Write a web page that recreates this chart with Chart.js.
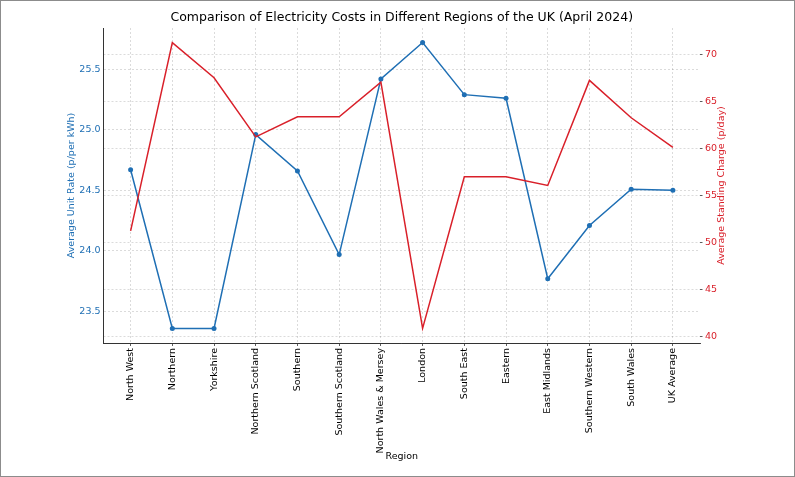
<!DOCTYPE html>
<html>
<head>
    <title>Electricity Costs by UK Region</title>
    <script src="https://cdn.jsdelivr.net/npm/chart.js"></script>
    <style>
        body { margin: 0; background: #fff; }
        #wrap { width: 793px; height: 475px; border: 1px solid #8c8c8c; }
    </style>
</head>
<body>
    <div id="wrap"><canvas id="chart"></canvas></div>

    <script>
        const regions = ['North West', 'Northern', 'Yorkshire', 'Northern Scotland', 'Southern',
            'Southern Scotland', 'North Wales & Mersey', 'London', 'South East', 'Eastern',
            'East Midlands', 'Southern Western', 'South Wales', 'UK Average'];
        const unitRates = [24.67, 23.36, 23.36, 24.96, 24.66, 23.97, 25.42, 25.72, 25.29, 25.26, 23.77, 24.21, 24.51, 24.50];
        const standingCharges = [51.21, 71.24, 67.51, 61.22, 63.36, 63.36, 67.05, 40.85, 56.97, 56.97, 56.05, 67.23, 63.25, 60.10];
        const unitRateTicks = [23.5, 24.0, 24.5, 25.0, 25.5];
        const standingTicks = [40, 45, 50, 55, 60, 65, 70];

        const blue = '#1f6fb4';
        const red = '#d9202a';
        const gridColor = 'rgba(0, 0, 0, 0.18)';

        Chart.defaults.font.family = 'DejaVu Sans';
        Chart.defaults.font.size = 9.5;
        Chart.defaults.color = '#000';

        // the right-hand axis title reads bottom-to-top, like the left one
        const rightTitle = {
            id: 'rightTitle',
            afterDraw(chart) {
                const { ctx, chartArea } = chart;
                const s = chart.scales.y1;
                ctx.save();
                ctx.translate(s.right - 72, (chartArea.top + chartArea.bottom) / 2);
                ctx.rotate(-Math.PI / 2);
                ctx.font = '9.5px "DejaVu Sans"';
                ctx.fillStyle = red;
                ctx.textAlign = 'center';
                ctx.textBaseline = 'middle';
                ctx.fillText('Average Standing Charge (p/day)', 0, 0);
                ctx.restore();
            }
        };

        const ctx = document.getElementById('chart').getContext('2d');
        new Chart(ctx, {
            type: 'line',
            data: {
                datasets: [{
                    label: 'Average Unit Rate',
                    data: unitRates.map((v, i) => ({ x: i, y: v })),
                    yAxisID: 'y',
                    borderColor: blue,
                    backgroundColor: blue,
                    borderWidth: 1.5,
                    pointRadius: 2.5,
                    pointBorderWidth: 0,
                    tension: 0,
                    order: 1
                }, {
                    label: 'Average Standing Charge',
                    data: standingCharges.map((v, i) => ({ x: i, y: v })),
                    yAxisID: 'y1',
                    borderColor: red,
                    backgroundColor: red,
                    borderWidth: 1.5,
                    pointRadius: 0,
                    tension: 0,
                    order: 0
                }]
            },
            options: {
                responsive: true,
                maintainAspectRatio: false,
                animation: false,
                layout: { padding: 0 },
                plugins: {
                    legend: { display: false },
                    tooltip: { enabled: false },
                    title: {
                        display: true,
                        text: 'Comparison of Electricity Costs in Different Regions of the UK (April 2024)',
                        fullSize: false,
                        font: { size: 12.5, weight: 'normal' },
                        color: '#000',
                        padding: { top: 9.5, bottom: 2.5 }
                    }
                },
                scales: {
                    x: {
                        type: 'linear',
                        min: -0.65,
                        max: regions.length - 1 + 0.65,
                        afterBuildTicks: s => { s.ticks = regions.map((_, i) => ({ value: i })); },
                        afterFit: s => { s.height = 133; },
                        ticks: {
                            autoSkip: false,
                            minRotation: 90,
                            maxRotation: 90,
                            padding: 2,
                            callback: v => regions[v]
                        },
                        grid: { color: gridColor, lineWidth: 0.8, tickLength: 3, tickColor: '#333', tickWidth: 0.8 },
                        border: { color: '#333', width: 1, dash: [2, 2] },
                        title: { display: true, text: 'Region', padding: { top: 0, bottom: 13.3 } }
                    },
                    y: {
                        position: 'left',
                        min: 23.24,
                        max: 25.84,
                        afterBuildTicks: s => { s.ticks = unitRateTicks.map(v => ({ value: v })); },
                        afterFit: s => { s.width = 102.5; },
                        ticks: { color: blue, padding: 3, callback: v => v.toFixed(1) },
                        grid: { color: gridColor, lineWidth: 0.8, drawTicks: false },
                        border: { color: '#333', width: 1, dash: [2, 2] },
                        title: { display: true, text: 'Average Unit Rate (p/per kWh)', color: blue, padding: { top: 65.3, bottom: 0 } }
                    },
                    y1: {
                        position: 'right',
                        min: 39.29,
                        max: 72.8,
                        afterBuildTicks: s => { s.ticks = standingTicks.map(v => ({ value: v })); },
                        afterFit: s => { s.width = 94; },
                        ticks: { color: red, padding: 2.5, callback: v => v },
                        grid: { color: gridColor, lineWidth: 0.8, tickLength: 2.5, tickColor: '#333', tickWidth: 0.8 },
                        border: { display: false, dash: [2, 2] },
                        title: { display: false }
                    }
                }
            },
            plugins: [rightTitle]
        });
    </script>
</body>
</html>
